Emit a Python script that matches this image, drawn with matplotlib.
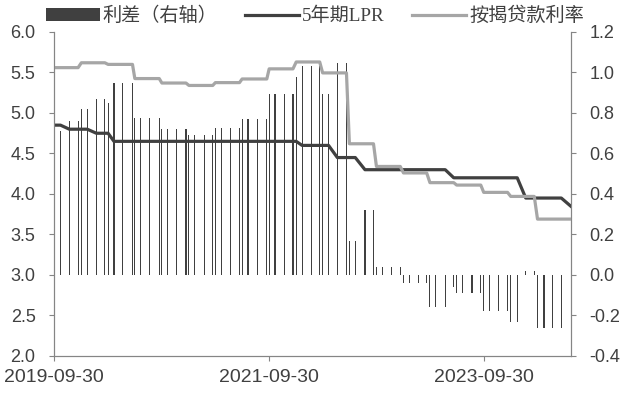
import numpy as np
import pandas as pd
import matplotlib
matplotlib.use("Agg")
import matplotlib.pyplot as plt
import matplotlib.dates as mdates
from matplotlib.ticker import FormatStrFormatter, MultipleLocator

plt.rcParams['font.family'] = ['Liberation Sans', 'Noto Sans CJK SC', 'DejaVu Sans']
plt.rcParams['axes.unicode_minus'] = False

# LPR release dates plus quarter ends (mortgage rate observations)
dates = [
    "2019-09-30", "2019-10-21", "2019-11-20", "2019-12-20", "2019-12-31",
    "2020-01-20", "2020-02-20", "2020-03-20", "2020-03-31", "2020-04-20",
    "2020-05-20", "2020-06-22", "2020-06-30", "2020-07-20", "2020-08-20",
    "2020-09-21", "2020-09-30", "2020-10-20", "2020-11-20", "2020-12-21",
    "2020-12-31", "2021-01-20", "2021-02-22", "2021-03-22", "2021-03-31",
    "2021-04-20", "2021-05-20", "2021-06-21", "2021-06-30", "2021-07-20",
    "2021-08-20", "2021-09-22", "2021-09-30", "2021-10-20", "2021-11-22",
    "2021-12-20", "2021-12-31", "2022-01-20", "2022-02-21", "2022-03-21",
    "2022-03-31", "2022-04-20", "2022-05-20", "2022-06-20", "2022-06-30",
    "2022-07-20", "2022-08-22", "2022-09-20", "2022-09-30", "2022-10-20",
    "2022-11-21", "2022-12-20", "2022-12-31", "2023-01-20", "2023-02-20",
    "2023-03-20", "2023-03-31", "2023-04-20", "2023-05-22", "2023-06-20",
    "2023-06-30", "2023-07-20", "2023-08-21", "2023-09-20", "2023-09-30",
    "2023-10-20", "2023-11-20", "2023-12-20", "2023-12-31", "2024-01-22",
    "2024-02-20", "2024-03-20", "2024-03-31", "2024-04-22", "2024-05-20",
    "2024-06-20", "2024-07-22",
]

lpr_5y = [
    4.85, 4.85, 4.80, 4.80, 4.80,
    4.80, 4.75, 4.75, 4.75, 4.65,
    4.65, 4.65, 4.65, 4.65, 4.65,
    4.65, 4.65, 4.65, 4.65, 4.65,
    4.65, 4.65, 4.65, 4.65, 4.65,
    4.65, 4.65, 4.65, 4.65, 4.65,
    4.65, 4.65, 4.65, 4.65, 4.65,
    4.65, 4.65, 4.60, 4.60, 4.60,
    4.60, 4.60, 4.45, 4.45, 4.45,
    4.45, 4.30, 4.30, 4.30, 4.30,
    4.30, 4.30, 4.30, 4.30, 4.30,
    4.30, 4.30, 4.30, 4.30, 4.20,
    4.20, 4.20, 4.20, 4.20, 4.20,
    4.20, 4.20, 4.20, 4.20, 4.20,
    3.95, 3.95, 3.95, 3.95, 3.95,
    3.95, 3.85,
]

mortgage = [
    5.56, 5.56, 5.56, 5.56, 5.62,
    5.62, 5.62, 5.62, 5.60, 5.60,
    5.60, 5.60, 5.425, 5.425, 5.425,
    5.425, 5.37, 5.37, 5.37, 5.37,
    5.34, 5.34, 5.34, 5.34, 5.375,
    5.375, 5.375, 5.375, 5.42, 5.42,
    5.42, 5.42, 5.545, 5.545, 5.545,
    5.545, 5.63, 5.63, 5.63, 5.63,
    5.495, 5.495, 5.495, 5.495, 4.62,
    4.62, 4.62, 4.62, 4.34, 4.34,
    4.34, 4.34, 4.26, 4.26, 4.26,
    4.26, 4.14, 4.14, 4.14, 4.14,
    4.11, 4.11, 4.11, 4.11, 4.02,
    4.02, 4.02, 4.02, 3.97, 3.97,
    3.97, 3.97, 3.69, 3.69, 3.69,
    3.69, 3.69,
]

spread = [
    0.71, 0.71, 0.76, 0.76, 0.82,
    0.82, 0.87, 0.87, 0.85, 0.95,
    0.95, 0.95, 0.775, 0.775, 0.775,
    0.775, 0.72, 0.72, 0.72, 0.72,
    0.69, 0.69, 0.69, 0.69, 0.725,
    0.725, 0.725, 0.725, 0.77, 0.77,
    0.77, 0.77, 0.895, 0.895, 0.895,
    0.895, 0.98, 1.03, 1.03, 1.03,
    0.895, 0.895, 1.045, 1.045, 0.17,
    0.17, 0.32, 0.32, 0.04, 0.04,
    0.04, 0.04, -0.04, -0.04, -0.04,
    -0.04, -0.16, -0.16, -0.16, -0.06,
    -0.09, -0.09, -0.09, -0.09, -0.18,
    -0.18, -0.18, -0.18, -0.23, -0.23,
    0.02, 0.02, -0.26, -0.26, -0.26,
    -0.26, np.nan,
]

x_ticks = ["2019-09-30", "2021-09-30", "2023-09-30"]
x = pd.to_datetime(dates)

text_c = '#404040'
axis_c = '#858585'

fig = plt.figure(figsize=(6.3, 3.99), dpi=100)
ax = fig.add_axes([0.0862, 0.1078, 0.8197, 0.812])
ax_l = ax.twinx()

bars = ax.bar(x, spread, width=3.7, color='#404040', linewidth=0, label='利差（右轴）')
l1, = ax_l.plot(x, lpr_5y, color='#404040', lw=2.3, label='5年期LPR')
l2, = ax_l.plot(x, mortgage, color='#a6a6a6', lw=2.3, label='按揭贷款利率')

ax.set_xlim(pd.Timestamp("2019-09-30"), pd.Timestamp("2024-07-22"))
ax.set_ylim(-0.4, 1.2)
ax_l.set_ylim(2.0, 6.0)

ax.yaxis.set_major_locator(MultipleLocator(0.2))
ax.yaxis.set_major_formatter(FormatStrFormatter('%.1f'))
ax_l.yaxis.set_major_locator(MultipleLocator(0.5))
ax_l.yaxis.set_major_formatter(FormatStrFormatter('%.1f'))

# bars on the right scale, lines on the left
ax.yaxis.tick_right()
ax_l.yaxis.tick_left()

ax.set_xticks(pd.to_datetime(x_ticks))
ax.xaxis.set_major_formatter(mdates.DateFormatter('%Y-%m-%d'))

for a in (ax, ax_l):
    a.spines['top'].set_visible(False)
    for s in ('left', 'right', 'bottom'):
        a.spines[s].set_color(axis_c)
        a.spines[s].set_linewidth(0.8)
    a.tick_params(axis='y', direction='out', length=3.5, width=0.8, color=axis_c,
                  labelsize=13, labelcolor=text_c, pad=10)
ax.tick_params(axis='x', direction='out', length=3.5, width=0.8, color=axis_c,
               labelsize=14, labelcolor=text_c, pad=6)

fig.legend(handles=[bars, l1, l2], loc='center', bbox_to_anchor=(0.5, 1 - 16 / 399),
           ncol=3, frameon=False, handlelength=2.8, handleheight=0.6, handletextpad=0.15,
           columnspacing=1.45, borderpad=0, labelcolor=text_c,
           prop={'family': ['Liberation Serif', 'Noto Sans CJK SC'], 'size': 13.8})

fig.savefig("out.png", dpi=100)
